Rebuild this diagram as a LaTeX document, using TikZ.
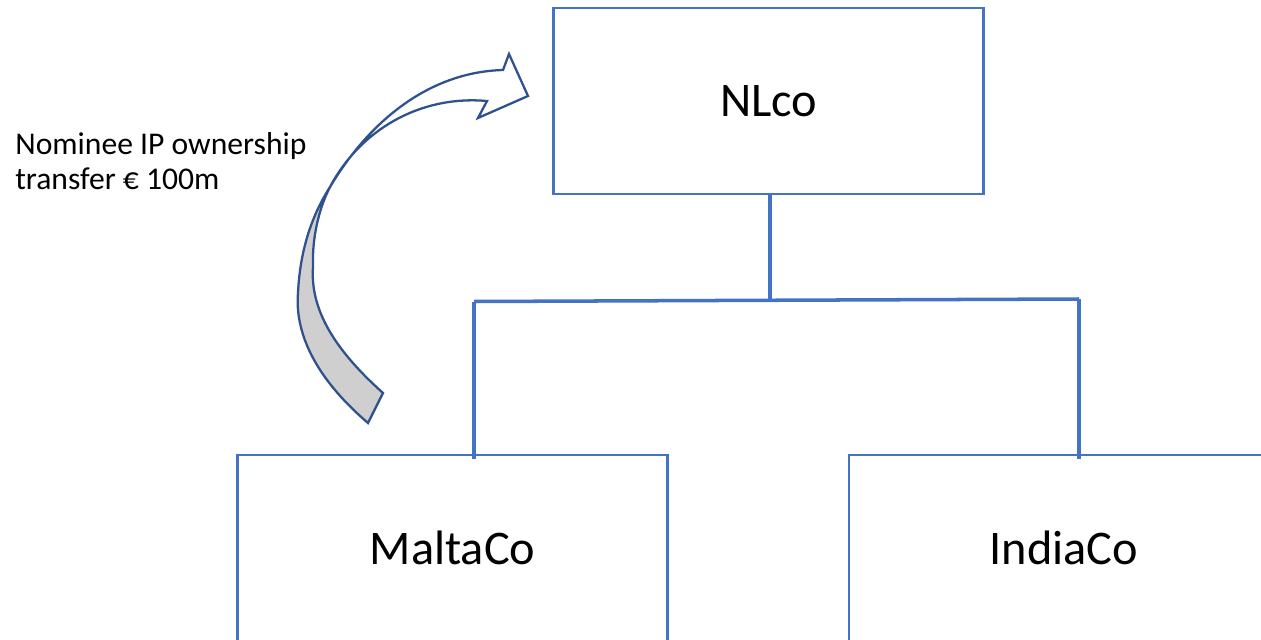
\documentclass[tikz,border=0pt]{standalone}
\usepackage{fontspec}
\setmainfont{Carlito}
\usetikzlibrary{positioning}
\definecolor{boxblue}{HTML}{4472C4}
\definecolor{arrowblue}{HTML}{2F528F}
\definecolor{arrowgray}{HTML}{CFCFCF}
\tikzset{
  company/.style={draw=boxblue,line width=1.3pt,minimum width=8.6cm,minimum height=3.72cm,
    font=\fontsize{27.5}{32}\selectfont},
  link/.style={draw=boxblue,line width=2pt},
  bigarrow/.style={draw=arrowblue,line width=1.3pt,line join=miter}
}

\begin{document}
\begin{tikzpicture}[x=0.02cm,y=-0.02cm]
\useasboundingbox (0,0) rectangle (1261,639);
\node[company] (NL) at (768.5,101) {NLco};
\node[company] (MT) at (452.5,548) {MaltaCo};
\node[company] (IN) at (1064,548) {IndiaCo};
\coordinate (J) at (770,300);
\coordinate (JL) at (474,301.5);
\coordinate (JR) at (1079,299);
\draw[link] (NL.south -| J) -- (J);
\draw[link] (JL) -- (JR);
\draw[link] (JL) -- ([yshift=-3pt]JL |- MT.north);
\draw[link] (JR) -- ([yshift=-3pt]JR |- IN.north);
% curved arrow, band twists at X
\coordinate (X) at (330,187);
\fill[arrowgray] (368,423) .. controls (312,375) and (295,330) .. (298,293)
  .. controls (300,250) and (312,215) .. (X)
  .. controls (318,210) and (312,240) .. (313,267)
  .. controls (310,310) and (335,350) .. (383,393) -- cycle;
\draw[bigarrow] (368,423) .. controls (312,375) and (295,330) .. (298,293)
  .. controls (300,250) and (312,215) .. (X)
  .. controls (370,120) and (430,72) .. (503,70) -- (509,54) -- (528,96)
  -- (478,118) -- (487,101) .. controls (420,95) and (360,130) .. (X)
  .. controls (318,210) and (312,240) .. (313,267)
  .. controls (310,310) and (335,350) .. (383,393) -- cycle;
\node[anchor=north west,align=left,inner sep=0pt,font=\fontsize{18}{20}\selectfont]
  (lbl) at (15,132) {Nominee IP ownership\\transfer € 100m};
\end{tikzpicture}
\end{document}
